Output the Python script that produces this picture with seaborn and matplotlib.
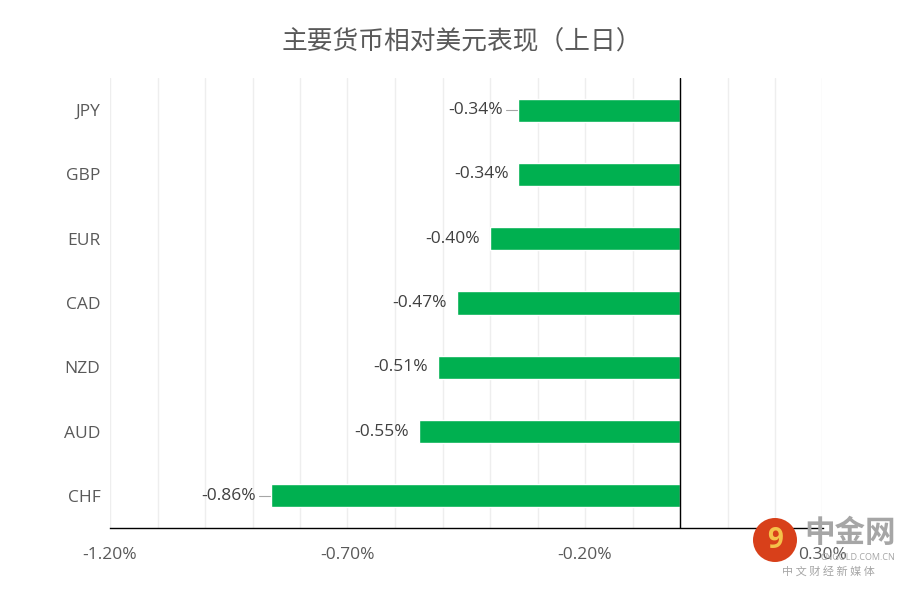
import matplotlib
matplotlib.use("Agg")
import matplotlib.pyplot as plt
import seaborn as sns
import pandas as pd
import numpy as np
from matplotlib.patches import Ellipse

categories = ["JPY", "GBP", "EUR", "CAD", "NZD", "AUD", "CHF"]
values = [-0.34, -0.34, -0.40, -0.47, -0.51, -0.55, -0.86]
labels = ["-0.34%", "-0.34%", "-0.40%", "-0.47%", "-0.51%", "-0.55%", "-0.86%"]
xticks = [-1.2, -0.7, -0.2, 0.3]
xticklabels = ["-1.20%", "-0.70%", "-0.20%", "0.30%"]
title = "主要货币相对美元表现（上日）"

sns.set_theme(style="white")
plt.rcParams["font.family"] = ["Open Sans", "Noto Sans CJK SC", "DejaVu Sans"]

df = pd.DataFrame({"cur": categories, "val": values})

fig = plt.figure(figsize=(9.12, 5.89), dpi=100)
W, H = 912, 589
ax = fig.add_axes([110 / W, 1 - 528 / H, (822.5 - 110) / W, (528 - 78) / H])

sns.barplot(data=df, y="cur", x="val", orient="h", color="#00B050",
            width=0.36, saturation=1, ax=ax, order=categories)

ax.set_xlim(-1.2, 0.3)
ax.set_ylim(6.5, -0.5)
ax.set_xticks(xticks)
ax.set_xticklabels(xticklabels)
ax.set_xticks(np.arange(-1.2, 0.301, 0.1), minor=True)
ax.grid(True, axis="x", which="both", color="#EEEEEE", lw=1)
ax.grid(False, axis="y")
ax.set_axisbelow(True)
ax.tick_params(axis="x", which="both", length=0, pad=14, labelsize=12.5, labelcolor="#595959")
ax.tick_params(axis="y", length=0, pad=7, labelsize=12.5, labelcolor="#595959")
ax.set_xlabel("")
ax.set_ylabel("")
for s in ["left", "right", "top"]:
    ax.spines[s].set_visible(False)
ax.spines["bottom"].set_color("black")
ax.spines["bottom"].set_linewidth(1)
ax.spines["bottom"].set_zorder(4)
ax.axvline(0, color="black", lw=1, zorder=3)

px = 1.5 / (822.5 - 110)  # data units per pixel
for i, (v, lab) in enumerate(zip(values, labels)):
    leader = i in (0, 6)
    off = 16 if leader else 10
    ax.text(v - off * px, i, lab, ha="right", va="center", fontsize=12.5, color="#404040")
    if leader:
        ax.plot([v - 12 * px, v - 1 * px], [i, i], color="#A6A6A6", lw=0.8)

fig.text(462 / W, 1 - 42 / H, title, ha="center", va="center", fontsize=18.5,
         color="#595959", family=["Noto Sans CJK SC", "DejaVu Sans"])

# watermark
logo = Ellipse((775 / W, 1 - 540 / H), 44 / W, 44 / H, transform=fig.transFigure,
               facecolor="#D8401A", edgecolor="none", zorder=5)
fig.add_artist(logo)
fig.text(775 / W, 1 - 541 / H, "9", ha="center", va="center", fontsize=20, fontweight="bold",
         color="#F5C24A", zorder=6)
fig.text(850 / W, 1 - 533 / H, "中金网", ha="center", va="center", fontsize=22, fontweight="bold",
         color="#A6A6A6", family=["Noto Sans CJK SC"], zorder=6)
fig.text(858 / W, 1 - 558 / H, "CNGOLD.COM.CN", ha="center", va="center", fontsize=6.5,
         color="#A6A6A6", zorder=6)
fig.text(828 / W, 1 - 571 / H, "中 文 财 经 新 媒 体", ha="center", va="center", fontsize=8,
         color="#A6A6A6", family=["Noto Sans CJK SC"], zorder=6)

fig.savefig("out.png", dpi=100, facecolor="white")
